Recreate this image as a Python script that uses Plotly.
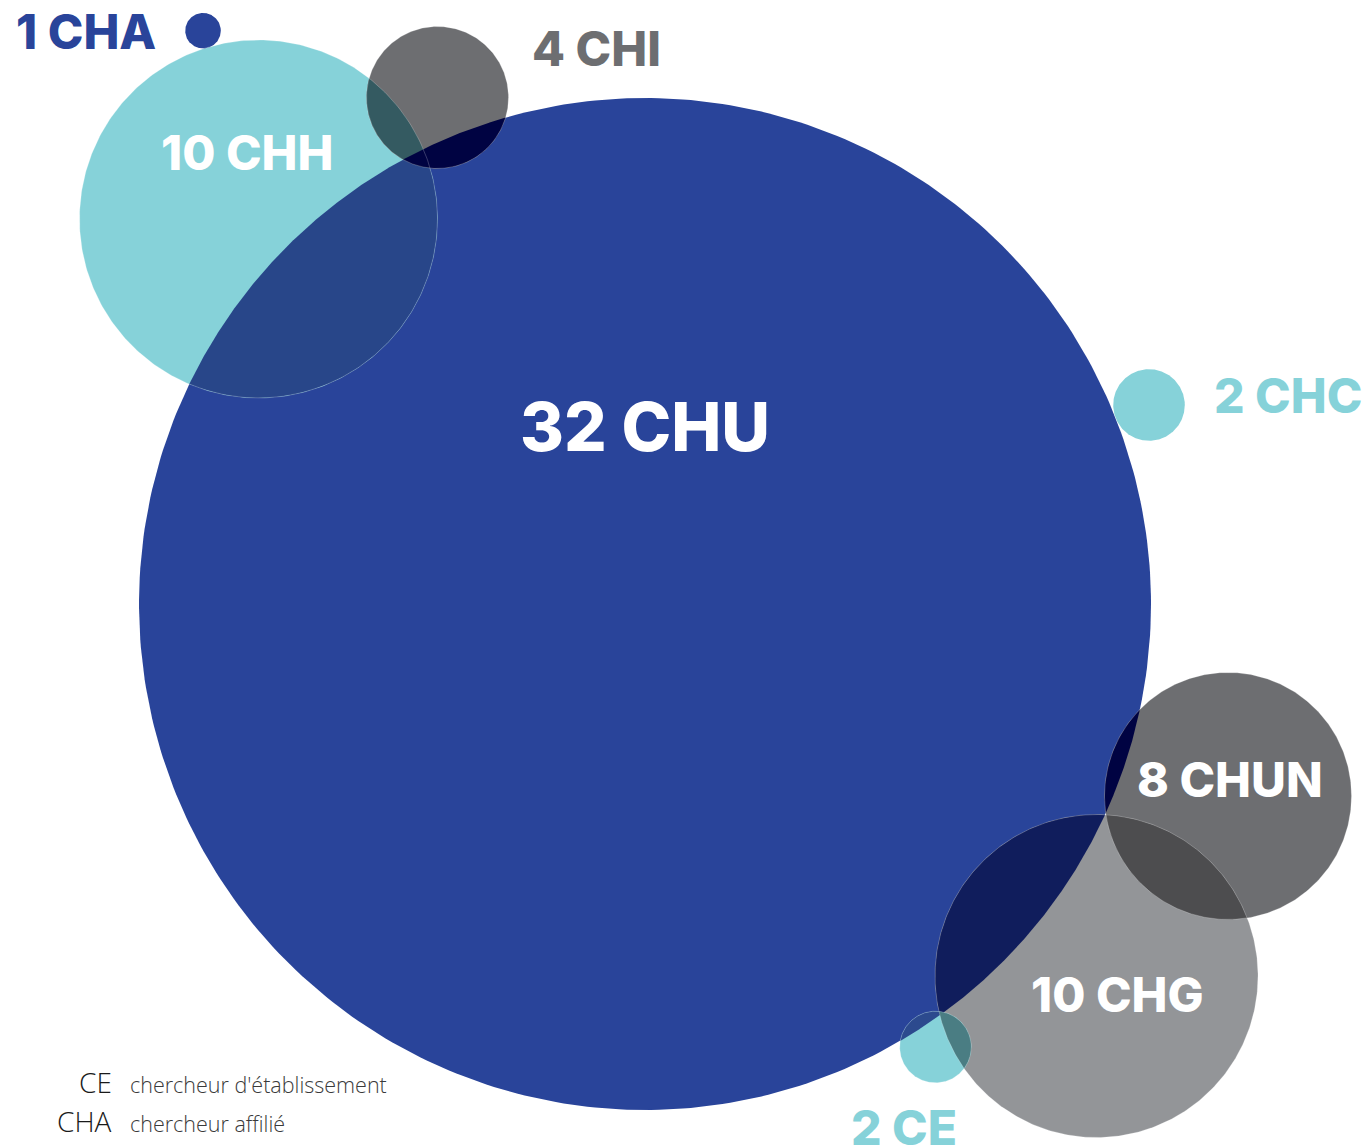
import numpy as np
import plotly.graph_objects as go

# ---- data ----
names = ["CHU", "CHH", "CHI", "CHA", "CHC", "CHUN", "CHG", "CE"]
values = [32, 10, 4, 1, 2, 8, 10, 2]
legend_codes = ["CE", "CHA"]
legend_desc = ["chercheur d'établissement", "chercheur affilié"]

# ---- layout (pixel-space positions / sizes / styles) ----
cx = [645, 258.5, 437.5, 203, 1149, 1228, 1096.5, 935.5]
cy = [604, 219, 97.5, 30.7, 405, 796, 976, 1047]
rad = [506, 179, 71, 17.8, 35.8, 123.5, 161.5, 35.8]
fill = ["#29449a", "#86d2d9", "#6d6e71", "#29449a", "#86d2d9", "#6d6e71", "#939598", "#86d2d9"]
# label: (x, y, color, size)
lab = {
    "CHU": (645, 426, "white", 67),
    "CHH": (247, 152, "white", 48),
    "CHI": (596, 48, "#6d6e71", 48),
    "CHA": (86, 31, "#29449a", 48),
    "CHC": (1288, 395, "#86d2d9", 48),
    "CHUN": (1230, 779, "white", 48),
    "CHG": (1117, 994, "white", 48),
    "CE": (904, 1127, "#86d2d9", 48),
}
# overlaps drawn in order (later on top)
overlaps = [
    ("CHH", "CHU", "#284689"),
    ("CHI", "CHH", "#345a61"),
    ("CHI", "CHU", "#000342"),
    ("CHG", "CHU", "#101d5c"),
    ("CHUN", "CHU", "#000342"),
    ("CHUN", "CHG", "#4d4d4f"),
    ("CE", "CHU", "#2c4a8e"),
    ("CE", "CHG", "#4a7d83"),
]

idx = {n: i for i, n in enumerate(names)}
OFF = 8  # page body margin


def circle(i, n=400):
    t = np.linspace(0, 2 * np.pi, n)
    return cx[i] + rad[i] * np.cos(t), cy[i] + rad[i] * np.sin(t)


def lens(a, b, n=200):
    x1, y1, r1 = cx[a], cy[a], rad[a]
    x2, y2, r2 = cx[b], cy[b], rad[b]
    d = np.hypot(x2 - x1, y2 - y1)
    phi = np.arctan2(y2 - y1, x2 - x1)
    al = np.arccos(np.clip((d * d + r1 * r1 - r2 * r2) / (2 * d * r1), -1, 1))
    be = np.arccos(np.clip((d * d + r2 * r2 - r1 * r1) / (2 * d * r2), -1, 1))
    ta = np.linspace(phi - al, phi + al, n)
    psi = phi + np.pi
    tb = np.linspace(psi - be, psi + be, n)
    xs = np.concatenate([x1 + r1 * np.cos(ta), x2 + r2 * np.cos(tb)])
    ys = np.concatenate([y1 + r1 * np.sin(ta), y2 + r2 * np.sin(tb)])
    return np.append(xs, xs[0]), np.append(ys, ys[0])


fig = go.Figure()
for i, n in enumerate(names):
    x, y = circle(i)
    fig.add_trace(go.Scatter(x=x, y=y, mode="lines", fill="toself", fillcolor=fill[i],
                             line=dict(width=0), hoverinfo="skip", name=n))
for a, b, col in overlaps:
    x, y = lens(idx[a], idx[b])
    fig.add_trace(go.Scatter(x=x, y=y, mode="lines", fill="toself", fillcolor=col,
                             line=dict(width=0), hoverinfo="skip"))
# faint outlines
for n in ["CHH", "CHI", "CHG", "CE", "CHUN"]:
    x, y = circle(idx[n])
    fig.add_trace(go.Scatter(x=x, y=y, mode="lines", line=dict(width=0.8, color="rgba(255,255,255,0.28)"),
                             hoverinfo="skip"))

ann = []
for n, v in zip(names, values):
    x, y, c, s = lab[n]
    ann.append(dict(x=x, y=y, xref="x", yref="y", text=f"{v} {n}", showarrow=False,
                    xanchor="center", yanchor="middle",
                    font=dict(family="Inter", size=s, color=c, weight=800)))
leg_y = [1082, 1121]
for code, desc, y in zip(legend_codes, legend_desc, leg_y):
    ann.append(dict(x=114, y=y, xref="x", yref="y", text=code, showarrow=False,
                    xanchor="right", yanchor="middle",
                    font=dict(family="Open Sans", size=28, color="#1a1a1a", weight=300)))
    ann.append(dict(x=128, y=y + 2, xref="x", yref="y", text=desc, showarrow=False,
                    xanchor="left", yanchor="middle",
                    font=dict(family="Open Sans", size=21.5, color="#3a3a3a", weight=300)))

fig.update_layout(
    width=1372 - OFF, height=1147 - OFF, margin=dict(l=0, r=0, t=0, b=0),
    paper_bgcolor="white", plot_bgcolor="white", showlegend=False,
    xaxis=dict(range=[OFF, 1372], visible=False, fixedrange=True),
    yaxis=dict(range=[1147, OFF], visible=False, fixedrange=True),
    annotations=ann, hovermode=False,
)
fig.write_html("out.html")
